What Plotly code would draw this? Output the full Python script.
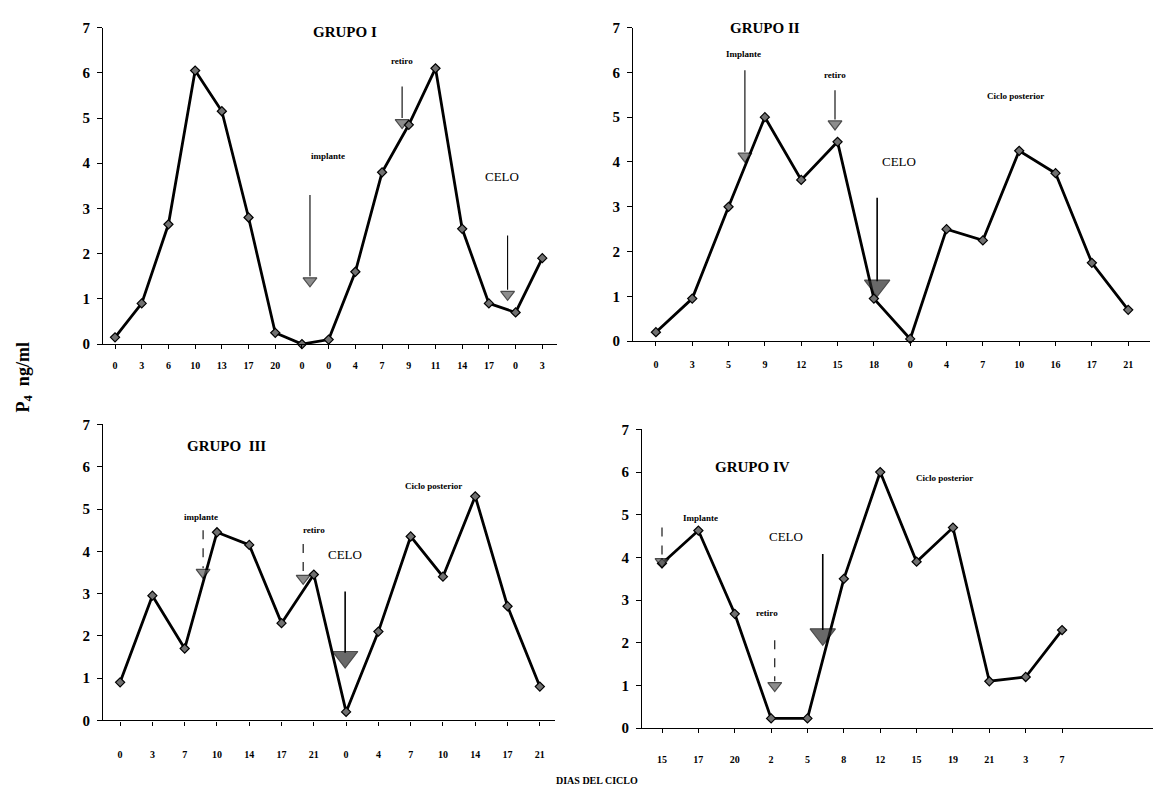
import plotly.graph_objects as go

# ---------------- datos: progesterona (ng/ml) por día del ciclo ----------------
g1_dias = ["0", "3", "6", "10", "13", "17", "20", "0", "0", "4", "7", "9", "11", "14", "17", "0", "3"]
g1_p4 = [0.15, 0.9, 2.65, 6.05, 5.15, 2.8, 0.25, 0.0, 0.1, 1.6, 3.8, 4.85, 6.1, 2.55, 0.9, 0.7, 1.9]

g2_dias = ["0", "3", "5", "9", "12", "15", "18", "0", "4", "7", "10", "16", "17", "21"]
g2_p4 = [0.2, 0.95, 3.0, 5.0, 3.6, 4.45, 0.95, 0.05, 2.5, 2.25, 4.25, 3.75, 1.75, 0.7]

g3_dias = ["0", "3", "7", "10", "14", "17", "21", "0", "4", "7", "10", "14", "17", "21"]
g3_p4 = [0.9, 2.95, 1.7, 4.45, 4.15, 2.3, 3.45, 0.2, 2.1, 4.35, 3.4, 5.3, 2.7, 0.8]

g4_dias = ["15", "17", "20", "2", "5", "8", "12", "15", "19", "21", "3", "7"]
g4_p4 = [3.86, 4.63, 2.68, 0.23, 0.23, 3.5, 6.0, 3.9, 4.7, 1.1, 1.2, 2.3]

# eventos (implante / retiro / celo): posición en el eje de días y nivel de la flecha
g1_ev = ["implante", "retiro", "CELO"]
g1_ev_x = [7.3, 10.75, 14.7]
g1_ev_tope = [3.3, 5.7, 2.4]
g1_ev_punta = [1.4, 4.9, 1.1]

g2_ev = ["implante", "retiro", "CELO"]
g2_ev_x = [2.45, 4.93, 6.09]
g2_ev_tope = [6.05, 5.6, 3.2]
g2_ev_punta = [4.13, 4.85, 1.24]

g3_ev = ["implante", "retiro", "CELO"]
g3_ev_x = [2.57, 5.67, 6.97]
g3_ev_tope = [4.5, 4.17, 3.05]
g3_ev_punta = [3.5, 3.36, 1.5]

g4_ev = ["implante", "retiro", "CELO"]
g4_ev_x = [0.0, 3.1, 4.42]
g4_ev_tope = [4.7, 2.06, 4.08]
g4_ev_punta = [3.9, 1.0, 2.2]

# rótulos de texto dentro de cada gráfico
g1_txt = ["GRUPO I", "retiro", "implante", "CELO"]
g1_txt_x = [8.6, 10.75, 7.98, 14.5]
g1_txt_y = [6.91, 6.26, 4.15, 3.7]

g2_txt = ["GRUPO II", "Implante", "retiro", "CELO", "Ciclo posterior"]
g2_txt_x = [3.0, 2.4, 4.93, 6.7, 9.9]
g2_txt_y = [6.98, 6.4, 5.95, 4.0, 5.48]

g3_txt = ["GRUPO  III", "implante", "retiro", "CELO", "Ciclo posterior"]
g3_txt_x = [3.3, 2.5, 6.0, 6.97, 9.7]
g3_txt_y = [6.5, 4.8, 4.5, 3.93, 5.55]

g4_txt = ["GRUPO IV", "Implante", "retiro", "CELO", "Ciclo posterior"]
g4_txt_x = [2.5, 1.05, 2.9, 3.4, 7.77]
g4_txt_y = [6.12, 4.93, 2.7, 4.5, 5.85]

W, H = 1160, 796
SERIF = "Liberation Serif"


def estilo_texto(t):
    if t.startswith("GRUPO"):
        return dict(size=15, weight="bold")
    if t == "CELO":
        return dict(size=13, weight="normal")
    return dict(size=9, weight="bold")


# caja en píxeles de cada gráfico: (x izq, x der, y de 0, y de 7) y rango de x
paneles = [
    dict(dias=g1_dias, p4=g1_p4, ev_x=g1_ev_x, ev_top=g1_ev_tope, ev_tip=g1_ev_punta,
         ev=g1_ev, txt=g1_txt, tx=g1_txt_x, ty=g1_txt_y,
         box=(103, 557, 343, 20), xr=(-0.45, 16.55), std=8,
         big=[False, False, False], dash=["solid", "solid", "solid"]),
    dict(dias=g2_dias, p4=g2_p4, ev_x=g2_ev_x, ev_top=g2_ev_tope, ev_tip=g2_ev_punta,
         ev=g2_ev, txt=g2_txt, tx=g2_txt_x, ty=g2_txt_y,
         box=(633, 1150, 340, 20), xr=(-0.63, 13.6), std=10,
         big=[False, False, True], dash=["solid", "solid", "solid"]),
    dict(dias=g3_dias, p4=g3_p4, ev_x=g3_ev_x, ev_top=g3_ev_tope, ev_tip=g3_ev_punta,
         ev=g3_ev, txt=g3_txt, tx=g3_txt_x, ty=g3_txt_y,
         box=(103, 555, 727, 425), xr=(-0.53, 13.47), std=20,
         big=[False, False, True], dash=["dash", "dash", "solid"]),
    dict(dias=g4_dias, p4=g4_p4, ev_x=g4_ev_x, ev_top=g4_ev_tope, ev_tip=g4_ev_punta,
         ev=g4_ev, txt=g4_txt, tx=g4_txt_x, ty=g4_txt_y,
         box=(642, 1153, 735, 430), xr=(-0.55, 13.5), std=18,
         big=[False, False, True], dash=["dash", "dash", "solid"]),
]

fig = go.Figure()
shapes = []
annotations = []

for i, p in enumerate(paneles, start=1):
    xa = "x" if i == 1 else f"x{i}"
    ya = "y" if i == 1 else f"y{i}"
    xl, xr_px, y0, y7 = p["box"]

    fig.add_trace(go.Scatter(
        x=list(range(len(p["p4"]))), y=p["p4"], xaxis=xa, yaxis=ya,
        mode="lines+markers", cliponaxis=False,
        line=dict(color="black", width=2.8),
        marker=dict(symbol="diamond", size=7, color="#707070",
                    line=dict(color="black", width=1.2)),
        showlegend=False, hoverinfo="x+y"))

    # flechas de los eventos
    for ex, et, ep, big, dsh in zip(p["ev_x"], p["ev_top"], p["ev_tip"], p["big"], p["dash"]):
        shapes.append(dict(type="line", xref=xa, yref=ya, x0=ex, x1=ex, y0=et, y1=ep + 0.1,
                           line=dict(color="black", width=1.6 if big else 1.1, dash=dsh)))
    fig.add_trace(go.Scatter(
        x=p["ev_x"], y=p["ev_tip"], xaxis=xa, yaxis=ya, mode="markers", cliponaxis=False,
        marker=dict(symbol="triangle-down",
                    size=[22 if b else 12 for b in p["big"]],
                    color=["#2a2a2a" if b else "#5e5e5e" for b in p["big"]],
                    line=dict(color="black", width=1.2)),
        showlegend=False, hoverinfo="skip"))

    # rótulos: se colocan en coordenadas de dominio para que no se oculten fuera de rango
    x_lo, x_hi = p["xr"]
    for t, tx, ty in zip(p["txt"], p["tx"], p["ty"]):
        annotations.append(dict(text=t, x=(tx - x_lo) / (x_hi - x_lo), y=ty / 7,
                                xref=f"{xa} domain", yref=f"{ya} domain",
                                xanchor="center", yanchor="middle", showarrow=False,
                                font=dict(family=SERIF, color="black", **estilo_texto(t))))

    dom_x = [xl / W, xr_px / W]
    dom_y = [(H - y0) / H, (H - y7) / H]
    ax_x = dict(domain=dom_x, range=list(p["xr"]), anchor=ya,
                tickmode="array", tickvals=list(range(len(p["dias"]))), ticktext=p["dias"],
                showline=True, linecolor="black", linewidth=1.3, ticks="outside",
                ticklen=4, tickcolor="black", showgrid=False, zeroline=False,
                ticklabelstandoff=p["std"],
                tickfont=dict(family=SERIF, size=10, color="black", weight="bold"))
    ax_y = dict(domain=dom_y, range=[0, 7], anchor=xa, tickvals=list(range(8)),
                showline=True, linecolor="black", linewidth=1, ticks="outside",
                ticklen=5, tickcolor="black", showgrid=False, zeroline=False,
                ticklabelstandoff=4,
                tickfont=dict(family=SERIF, size=15, color="black", weight="bold"))
    fig.layout["xaxis" if i == 1 else f"xaxis{i}"] = ax_x
    fig.layout["yaxis" if i == 1 else f"yaxis{i}"] = ax_y

# títulos generales
annotations.append(dict(text="P<sub>4</sub>  ng/ml", x=24 / W, y=(H - 377) / H,
                        xref="paper", yref="paper", xanchor="center", yanchor="middle",
                        showarrow=False, textangle=-90,
                        font=dict(family=SERIF, size=18, color="black", weight="bold")))
annotations.append(dict(text="DIAS DEL CICLO", x=597 / W, y=(H - 788) / H,
                        xref="paper", yref="paper", xanchor="center", yanchor="middle",
                        showarrow=False,
                        font=dict(family=SERIF, size=10, color="black", weight="bold")))

fig.update_layout(width=W, height=H, margin=dict(l=0, r=0, t=0, b=0),
                  paper_bgcolor="white", plot_bgcolor="white",
                  shapes=shapes, annotations=annotations)

fig.write_html("out.html")
